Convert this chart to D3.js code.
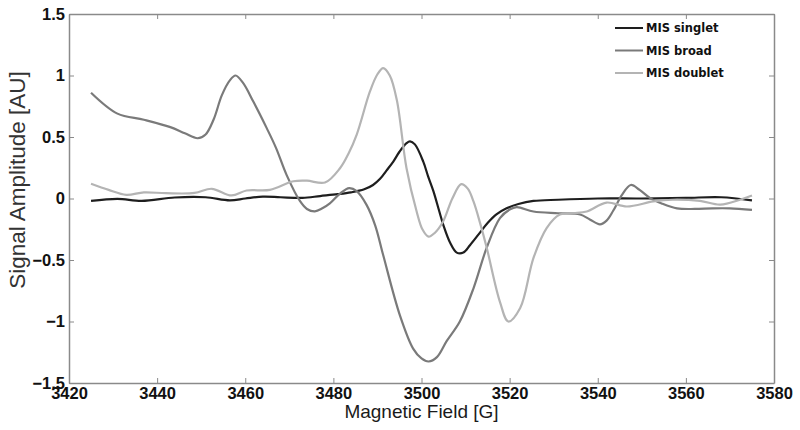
<!DOCTYPE html>
<html>
<head>
<meta charset="utf-8">
<script src="https://cdn.jsdelivr.net/npm/d3@7"></script>
<style>
  body { margin: 0; background: #fff; }
  svg { display: block; }
</style>
</head>
<body>
<svg id="chart"></svg>
<script>
// series data (field in G, amplitude in AU)
const singletX = [3425, 3431, 3436.5, 3444, 3451, 3456.5, 3460, 3464, 3468, 3473, 3477, 3481, 3484, 3487, 3489, 3490.6, 3492, 3493.6, 3495, 3496.6, 3497.4, 3498.5, 3500.4, 3501.5, 3502.7, 3504, 3505, 3506.5, 3508, 3509.5, 3511, 3513, 3515, 3517, 3519.3, 3522, 3525.4, 3531, 3540, 3550, 3560, 3568, 3575];
const singletY = [-0.02, -0.003, -0.02, 0.008, 0.01, -0.015, 0.0, 0.015, 0.01, 0.005, 0.02, 0.035, 0.05, 0.075, 0.11, 0.16, 0.225, 0.3, 0.38, 0.45, 0.465, 0.44, 0.30, 0.18, 0.06, -0.1, -0.22, -0.36, -0.44, -0.44, -0.38, -0.29, -0.2, -0.13, -0.08, -0.045, -0.02, -0.01, 0.0, 0.0, 0.005, 0.01, -0.015];

const broadX = [3425, 3431, 3437, 3443, 3446.3, 3449.2, 3451, 3452.8, 3454.7, 3456.5, 3457.8, 3459.5, 3461.8, 3464.9, 3467, 3469.4, 3472.4, 3474, 3475.8, 3477.5, 3479.2, 3481.5, 3483.6, 3485.3, 3487.5, 3489.5, 3491.3, 3495.1, 3498.1, 3500, 3501.6, 3503.5, 3505.7, 3508.7, 3511.8, 3514.8, 3517.8, 3520, 3521.6, 3525.4, 3531, 3536, 3538.2, 3540.5, 3542, 3543.5, 3545.5, 3547.5, 3549.5, 3551.9, 3554.5, 3558, 3562, 3566, 3570, 3575];
const broadY = [0.86, 0.69, 0.64, 0.58, 0.53, 0.49, 0.52, 0.64, 0.84, 0.96, 1.0, 0.94, 0.79, 0.57, 0.41, 0.19, -0.02, -0.085, -0.105, -0.08, -0.04, 0.04, 0.085, 0.06, -0.05, -0.22, -0.46, -0.95, -1.22, -1.3, -1.325, -1.29, -1.16, -1.0, -0.73, -0.40, -0.16, -0.09, -0.07, -0.106, -0.12, -0.13, -0.17, -0.21, -0.18, -0.1, 0.03, 0.11, 0.07, 0.003, -0.04, -0.08, -0.085, -0.08, -0.08, -0.092];

const doubletX = [3425, 3429, 3433, 3437, 3442, 3448.5, 3452.4, 3456.9, 3460.3, 3465.6, 3470.9, 3474, 3478.1, 3481.5, 3483.5, 3485.3, 3488.3, 3490, 3491.3, 3492.8, 3494.4, 3496.6, 3498.9, 3500.2, 3501.6, 3503, 3504.9, 3507, 3509, 3510.5, 3511.8, 3513.3, 3514.8, 3517.8, 3519.7, 3522.4, 3525.4, 3528.4, 3531.4, 3534.5, 3537.5, 3542, 3546.6, 3552.6, 3557, 3563.2, 3567.8, 3572.3, 3575];
const doubletY = [0.12, 0.07, 0.03, 0.05, 0.043, 0.045, 0.079, 0.025, 0.065, 0.07, 0.14, 0.145, 0.13, 0.246, 0.37, 0.52, 0.87, 1.01, 1.06, 1.0, 0.8, 0.246, -0.106, -0.25, -0.31, -0.28, -0.187, 0.0, 0.117, 0.08, -0.024, -0.2, -0.40, -0.84, -1.0, -0.89, -0.485, -0.24, -0.13, -0.12, -0.106, -0.033, -0.065, -0.024, -0.01, -0.02, -0.05, -0.01, 0.024];

const seriesNames = ["MIS singlet", "MIS broad", "MIS doublet"];
const seriesColors = ["#1e1e1e", "#7a7a7a", "#b4b4b4"];
const xTicks = [3420, 3440, 3460, 3480, 3500, 3520, 3540, 3560, 3580];
const yTicks = [-1.5, -1, -0.5, 0, 0.5, 1, 1.5];

const width = 800, height = 430;
const margin = {top: 14, right: 26, bottom: 47, left: 69};

const series = [
  {name: seriesNames[0], color: seriesColors[0], pts: d3.zip(singletX, singletY)},
  {name: seriesNames[1], color: seriesColors[1], pts: d3.zip(broadX, broadY)},
  {name: seriesNames[2], color: seriesColors[2], pts: d3.zip(doubletX, doubletY)}
];

const svg = d3.select("#chart")
  .attr("width", width)
  .attr("height", height)
  .attr("font-family", "Liberation Sans, Arial, sans-serif");

const x = d3.scaleLinear().domain([3420, 3580]).range([margin.left, width - margin.right]);
const y = d3.scaleLinear().domain([-1.5, 1.5]).range([height - margin.bottom, margin.top]);

const axisColor = "#8a8a8a";

// box with inward ticks on all four sides
function styleAxis(g) {
  g.select(".domain").attr("stroke", axisColor).attr("stroke-width", 1.5);
  g.selectAll(".tick line").attr("stroke", axisColor).attr("stroke-width", 1);
}

svg.append("g")
  .attr("transform", `translate(0,${height - margin.bottom})`)
  .call(d3.axisBottom(x).tickValues(xTicks).tickSize(-5).tickSizeOuter(0).tickPadding(4).tickFormat(d3.format("d")))
  .call(styleAxis)
  .call(g => g.selectAll(".tick text").attr("font-size", 16.5).attr("font-weight", "bold").attr("fill", "#111"));

svg.append("g")
  .attr("transform", `translate(${margin.left},0)`)
  .call(d3.axisLeft(y).tickValues(yTicks).tickSize(-5).tickSizeOuter(0).tickPadding(4).tickFormat(d => d3.format("")(d)))
  .call(styleAxis)
  .call(g => g.selectAll(".tick text").attr("font-size", 16.5).attr("font-weight", "bold").attr("fill", "#111"));

svg.append("g")
  .attr("transform", `translate(0,${margin.top})`)
  .call(d3.axisTop(x).tickValues(xTicks).tickSize(-5).tickSizeOuter(0).tickFormat(""))
  .call(styleAxis);

svg.append("g")
  .attr("transform", `translate(${width - margin.right},0)`)
  .call(d3.axisRight(y).tickValues(yTicks).tickSize(-5).tickSizeOuter(0).tickFormat(""))
  .call(styleAxis);

// curves
const line = d3.line()
  .x(d => x(d[0]))
  .y(d => y(d[1]))
  .curve(d3.curveCatmullRom.alpha(0.5));

svg.append("g")
  .selectAll("path")
  .data(series)
  .join("path")
  .attr("fill", "none")
  .attr("stroke", d => d.color)
  .attr("stroke-width", 2.2)
  .attr("stroke-linejoin", "round")
  .attr("d", d => line(d.pts));

// axis titles
svg.append("text")
  .attr("x", (margin.left + width - margin.right) / 2)
  .attr("y", 418)
  .attr("text-anchor", "middle")
  .attr("font-size", 19)
  .attr("fill", "#1a1a1a")
  .text("Magnetic Field [G]");

svg.append("text")
  .attr("transform", "translate(25,180) rotate(-90)")
  .attr("text-anchor", "middle")
  .attr("font-size", 22.5)
  .attr("fill", "#333")
  .text("Signal Amplitude [AU]");

// legend
const legend = svg.append("g")
  .attr("font-family", "DejaVu Sans, Verdana, sans-serif")
  .attr("font-size", 11.5)
  .attr("font-weight", "bold");

const rows = legend.selectAll("g")
  .data(series)
  .join("g")
  .attr("transform", (d, i) => `translate(615,${28 + i * 22.5})`);

rows.append("line")
  .attr("x1", 0).attr("x2", 28)
  .attr("stroke", d => d.color)
  .attr("stroke-width", 2);

rows.append("text")
  .attr("x", 31)
  .attr("dy", "0.35em")
  .attr("fill", "#111")
  .text(d => d.name);
</script>
</body>
</html>
